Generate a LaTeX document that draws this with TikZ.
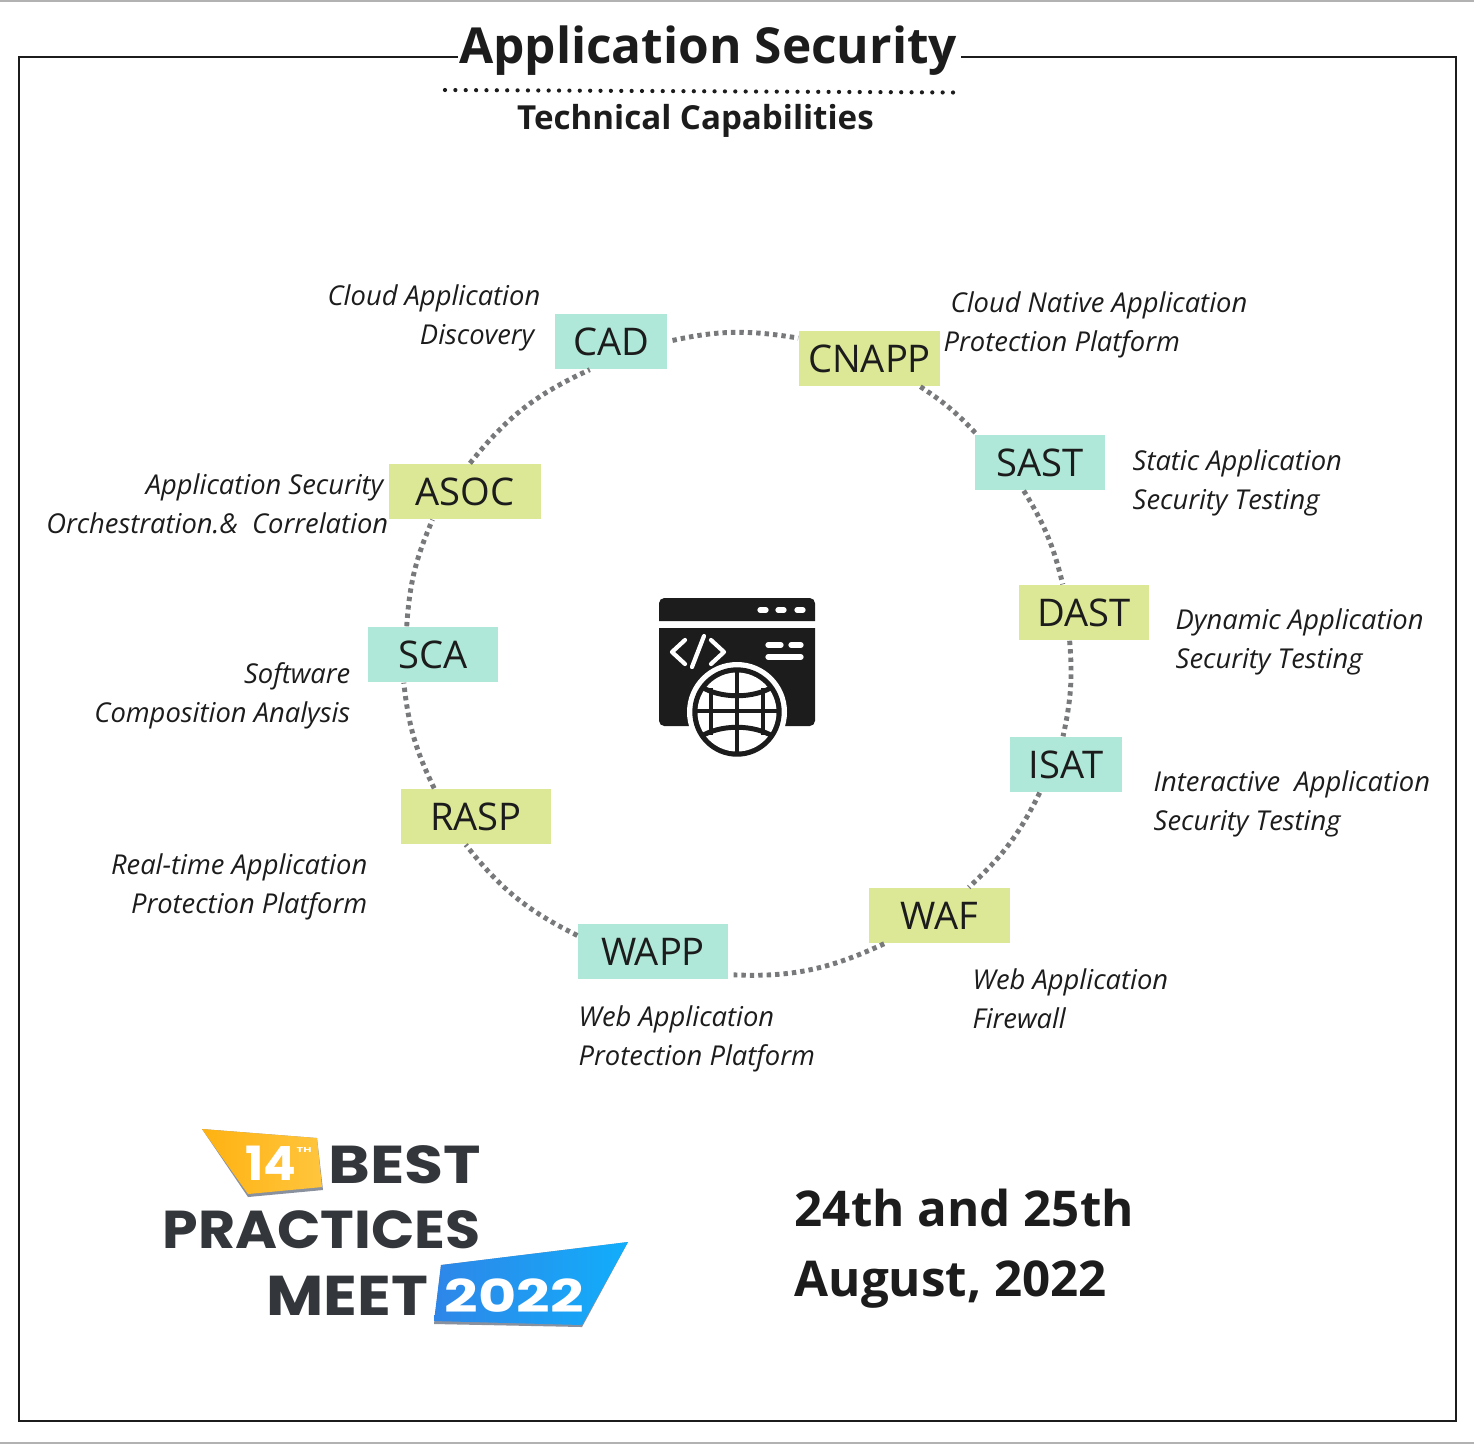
\documentclass[tikz,border=0pt]{standalone}
\usepackage{fontspec}
\setmainfont{Open Sans}
\newfontfamily\logofont{Poppins}
\usepackage{tikz}
\usetikzlibrary{positioning,calc}
\definecolor{inkblk}{HTML}{1C1C1C}
\definecolor{ringgray}{HTML}{77797B}
\definecolor{tealfill}{HTML}{AFE8D8}
\definecolor{limefill}{HTML}{DDE896}
\definecolor{logodark}{HTML}{33363A}
\definecolor{logoshade}{HTML}{8A919E}
\definecolor{logoorange}{HTML}{FFB211}
\definecolor{logoamber}{HTML}{FFC53D}
\definecolor{logoblue}{HTML}{2E86E8}
\definecolor{logosky}{HTML}{12AEFB}
\begin{document}
\begin{tikzpicture}[x=0.1mm, y=-0.1mm, text=inkblk,
  tag/.style={minimum height=5.5mm, inner sep=0pt, font=\fontsize{10.85}{13}\selectfont},
  tealblk/.style={tag, fill=tealfill},
  limeblk/.style={tag, fill=limefill},
  lbl/.style={inner sep=0pt, font=\fontsize{7.78}{11.1}\selectfont\itshape},
  ring/.style={draw=ringgray, line width=1.4pt, dash pattern=on 1.25pt off 1.15pt},
  logoword/.style={inner sep=0pt, anchor=base west, font=\logofont\bfseries},
  datelbl/.style={inner sep=0pt, anchor=base west, font=\fontsize{14.03}{19.9}\selectfont\bfseries}]
  \useasboundingbox (0,0) rectangle (1474,1444);
  \draw[gray!60, line width=0.4pt] (0,1) -- (1474,1);
  \draw[gray!60, line width=0.4pt] (0,1443) -- (1474,1443);
  \draw[inkblk, line width=0.8pt] (458,57) -- (19,57) -- (19,1421) -- (1456,1421) -- (1456,57) -- (961,57);

  \node[inner sep=0pt, font=\fontsize{14.12}{16}\selectfont\bfseries] (title) at (708,51) {Application Security};
  \node[inner sep=0pt, font=\fontsize{9.42}{12}\selectfont\bfseries] (subtitle) at (695.5,121) {Technical Capabilities};
  \draw[inkblk, line width=1.2pt, line cap=round, dash pattern=on 0pt off 2.95pt] (445,90) -- (957,92.5);

  \node[tealblk, minimum width=11.2mm] (cad) at (611,341.5) {CAD};
  \node[limeblk, minimum width=14.1mm] (cnapp) at (869.5,358.5) {CNAPP};
  \node[tealblk, minimum width=13mm] (sast) at (1040,462.5) {SAST};
  \node[limeblk, minimum width=13mm] (dast) at (1084,612.5) {DAST};
  \node[tealblk, minimum width=11.2mm] (isat) at (1066,764.5) {ISAT};
  \node[limeblk, minimum width=14.1mm] (waf) at (939.5,915.5) {WAF};
  \node[tealblk, minimum width=15mm] (wapp) at (653,951.5) {WAPP};
  \node[limeblk, minimum width=15mm] (rasp) at (476,816.5) {RASP};
  \node[tealblk, minimum width=13mm] (sca) at (433,654.5) {SCA};
  \node[limeblk, minimum width=15.2mm] (asoc) at (465,491.5) {ASOC};

  \draw[ring, shorten <=1.4pt] (cad.east) to[bend left=11] (cnapp.164);
  \draw[ring] (cnapp.331) to[bend left=7] (sast.156);
  \draw[ring] (sast.240) to[bend left=9] (dast.127);
  \draw[ring] (dast.243) to[bend left=8.5] (isat.96);
  \draw[ring] (isat.227) to[bend left=10.6] (waf.44);
  \draw[ring, shorten >=1.4pt] (waf.207) to[bend left=13.7] (wapp.343);
  \draw[ring] (wapp.168) to[bend left=12.7] (rasp.250);
  \draw[ring] (rasp.146) to[bend left=9.8] (sca.224);
  \draw[ring] (sca.133) to[bend left=9.8] (asoc.221);
  \draw[ring] (asoc.80) to[bend left=13.4] (cad.233);

  \node[lbl, anchor=east, align=right] (cadlbl) at (541,318) {Cloud Application\\Discovery\hspace*{1.7pt}};
  \node[lbl, anchor=west, align=left] (cnapplbl) at (943,325) {\hspace*{2pt}Cloud Native Application\\Protection Platform};
  \node[lbl, anchor=west, align=left] (sastlbl) at (1132,483) {Static Application\\Security Testing};
  \node[lbl, anchor=west, align=left] (dastlbl) at (1175,642) {Dynamic Application\\Security Testing};
  \node[lbl, anchor=west, align=left] (isatlbl) at (1153,804) {Interactive\ \ Application\\Security Testing};
  \node[lbl, anchor=west, align=left] (waflbl) at (972,999) {Web Application\\Firewall};
  \node[lbl, anchor=west, align=left] (wapplbl) at (578,1039) {Web Application\\Protection Platform};
  \node[lbl, anchor=east, align=right] (rasplbl) at (368,887) {Real-time Application\\Protection Platform};
  \node[lbl, anchor=east, align=right] (scalbl) at (351,696) {Software\\Composition Analysis};
  \node[lbl, anchor=east, align=right] (asoclbl) at (389,504) {Application Security\hspace*{1.4pt}\\Orchestration.\&\ \ Correlation};

  \fill[inkblk] (659,621) [rounded corners=1.5pt] -- (659,598) -- (815,598) [sharp corners] -- (815,621) -- cycle;
  \fill[inkblk] (815,628) -- (659,628) [rounded corners=1.5pt] -- (659,726) -- (815,726) [sharp corners] -- cycle;
  \draw[white, line width=1.5pt, line cap=round] (760,610) -- (766,610) (778,610) -- (784,610) (797,610) -- (803,610);
  \draw[white, line width=1.5pt, line cap=round] (768,645) -- (781,645) (791,645) -- (801,645) (768,657) -- (801,657);
  \draw[white, line width=1.2pt, line cap=round, line join=round] (685,640) -- (672,652) -- (685,664) (711,640) -- (724,652) -- (711,664) (704,636) -- (692,667);
  \fill[white] (737,712) circle (50);
  \fill[inkblk] (737,712) circle (44.7);
  \fill[white] (737,712) circle (39.5);
  \begin{scope}
    \clip (737,712) circle (41);
    \draw[inkblk, line width=1.4pt] (737,665) -- (737,757) (711,688) -- (711,735) (763,688) -- (763,735) (690,711) -- (784,711);
    \draw[inkblk, line width=1.4pt] (700,686) .. controls (720,699) and (754,699) .. (774,686);
    \draw[inkblk, line width=1.4pt] (700,737) .. controls (720,724) and (754,724) .. (774,737);
  \end{scope}

  \fill[logoshade] (202,1129) -- (317,1138) -- (323,1190) -- (248,1197) -- cycle;
  \shade[left color=logoorange, right color=logoamber] (202,1129) -- (317,1138) -- (322,1187) -- (248,1194) -- cycle;
  \fill[logoshade] (434,1324) -- (582,1327) -- (628,1242) -- (441,1265) -- cycle;
  \shade[left color=logoblue, right color=logosky] (441,1265) -- (628,1242) -- (582,1325) -- (434,1321) -- cycle;

  \node[logoword, text=white] (fourteen) at (245,1180) {\resizebox{14.5pt}{9.8pt}{14}};
  \node[logoword, text=white] (th) at (296,1152) {\resizebox{4.2pt}{1.4pt}{TH}};
  \node[logoword, text=logodark] (best) at (328,1183) {\resizebox{43.4pt}{10.8pt}{BEST}};
  \node[logoword, text=logodark] (practices) at (162,1248) {\resizebox{90.5pt}{10.8pt}{PRACTICES}};
  \node[logoword, text=logodark] (meet) at (266,1315) {\resizebox{46pt}{11.2pt}{MEET}};
  \node[logoword, text=white] (year) at (444,1312) {\resizebox{39.5pt}{9.6pt}{2022}};

  \node[datelbl] (dateone) at (794,1226) {24th and 25th};
  \node[datelbl] (datetwo) at (794,1296) {August, 2022};
\end{tikzpicture}
\end{document}
